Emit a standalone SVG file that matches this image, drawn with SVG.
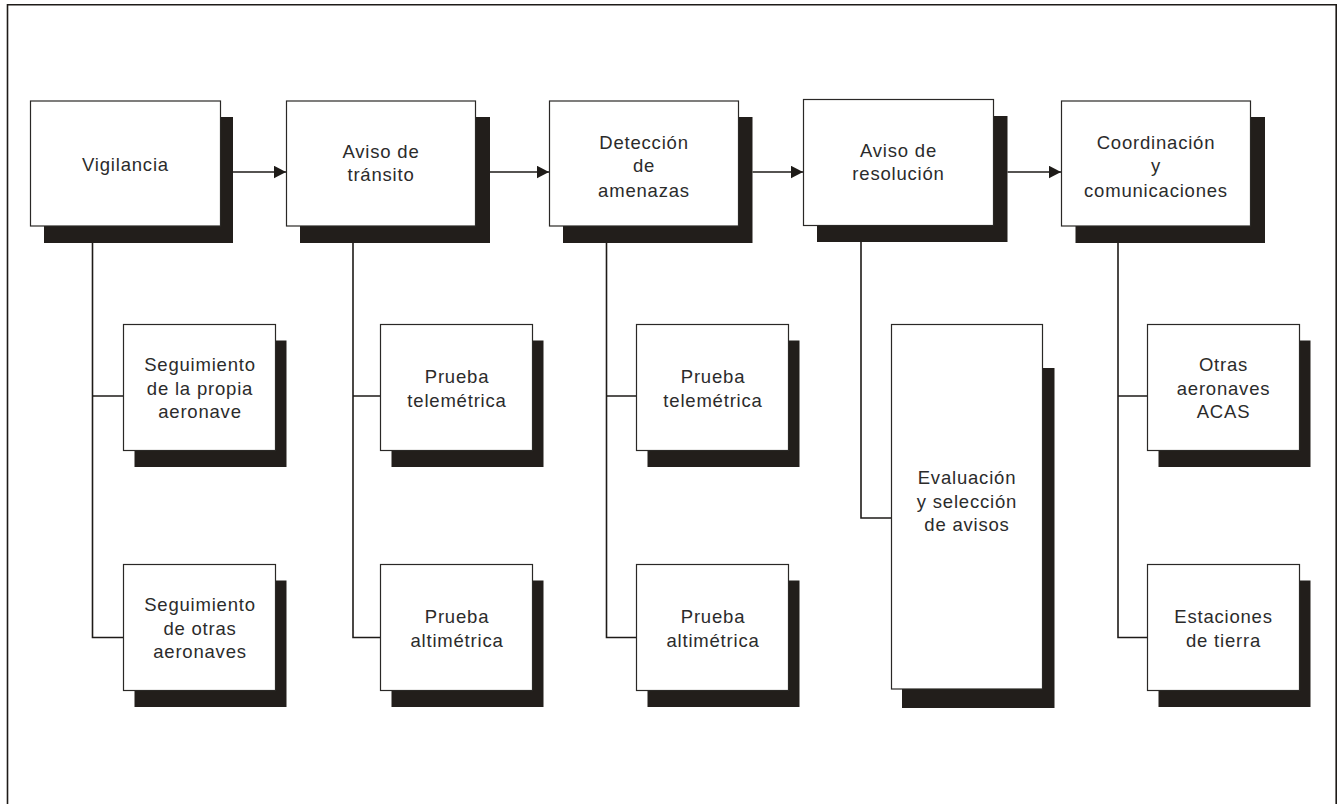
<svg xmlns="http://www.w3.org/2000/svg" width="1338" height="804" viewBox="0 0 1338 804">
<defs>
<style>
.frame{fill:none;stroke:#1e1b18;stroke-width:1.6}
.box{fill:#fff;stroke:#2a2826;stroke-width:1.2}
.sh{fill:#221e1b}
.ln{fill:none;stroke:#1e1b18;stroke-width:1.6}
.t{font-family:"Liberation Sans",Arial,sans-serif;font-size:18.5px;letter-spacing:0.8px;fill:#2b2b2b;text-anchor:middle}
</style>
<marker id="ah" markerWidth="13" markerHeight="14" refX="12.5" refY="6.5" orient="auto" markerUnits="userSpaceOnUse">
<path d="M0,0 L12.5,6.5 L0,13 Z" fill="#1e1b18"/>
</marker>
</defs>
<rect x="0" y="0" width="1338" height="804" fill="#fff"/>
<path class="frame" d="M7.5,806 V4.8 H1336.2 V806"/>

<g id="connectors">
<line class="ln" x1="233" y1="172" x2="286" y2="172" marker-end="url(#ah)"/>
<line class="ln" x1="490" y1="172" x2="549" y2="172" marker-end="url(#ah)"/>
<line class="ln" x1="752.5" y1="172" x2="803" y2="172" marker-end="url(#ah)"/>
<line class="ln" x1="1007.5" y1="172" x2="1061" y2="172" marker-end="url(#ah)"/>
<path class="ln" d="M92.5,243 V637.5 H123.5 M92.5,396 H123.5"/>
<path class="ln" d="M353,243 V637.5 H380.5 M353,396 H380.5"/>
<path class="ln" d="M606.5,243 V637.5 H636.5 M606.5,396 H636.5"/>
<path class="ln" d="M861,242 V518 H891.5"/>
<path class="ln" d="M1118,243 V637.5 H1147.5 M1118,396 H1147.5"/>
</g>

<g id="vigilancia">
<rect class="sh" x="44" y="117" width="189" height="126"/>
<rect class="box" x="30.5" y="101" width="190" height="125"/>
<text class="t" x="125.5" y="171">Vigilancia</text>
</g>
<g id="aviso-transito">
<rect class="sh" x="300" y="117" width="190" height="126"/>
<rect class="box" x="286.5" y="101" width="189" height="125"/>
<text class="t" x="381" y="157.5">Aviso de</text>
<text class="t" x="381" y="181">tránsito</text>
</g>
<g id="deteccion">
<rect class="sh" x="563" y="117" width="189.5" height="126"/>
<rect class="box" x="549.5" y="101" width="189" height="125"/>
<text class="t" x="644" y="148.5">Detección</text>
<text class="t" x="644" y="172">de</text>
<text class="t" x="644" y="196.5">amenazas</text>
</g>
<g id="aviso-resolucion">
<rect class="sh" x="817" y="116" width="190.5" height="126"/>
<rect class="box" x="803.5" y="99.5" width="190" height="126"/>
<text class="t" x="898.5" y="156.5">Aviso de</text>
<text class="t" x="898.5" y="180">resolución</text>
</g>
<g id="coordinacion">
<rect class="sh" x="1075.5" y="117" width="189.5" height="126"/>
<rect class="box" x="1061.5" y="101" width="189" height="125"/>
<text class="t" x="1156" y="148.5">Coordinación</text>
<text class="t" x="1156" y="172">y</text>
<text class="t" x="1156" y="196.5">comunicaciones</text>
</g>

<g id="seg-propia">
<rect class="sh" x="134.5" y="340.5" width="152" height="126.5"/>
<rect class="box" x="123.5" y="324.5" width="152" height="126"/>
<text class="t" x="200" y="371">Seguimiento</text>
<text class="t" x="200" y="394.5">de la propia</text>
<text class="t" x="200" y="418">aeronave</text>
</g>
<g id="seg-otras">
<rect class="sh" x="134.5" y="580.5" width="152" height="126.5"/>
<rect class="box" x="123.5" y="564.5" width="152" height="126"/>
<text class="t" x="200" y="611">Seguimiento</text>
<text class="t" x="200" y="634.5">de otras</text>
<text class="t" x="200" y="658">aeronaves</text>
</g>
<g id="tele-1">
<rect class="sh" x="391.5" y="340.5" width="152" height="126.5"/>
<rect class="box" x="380.5" y="324.5" width="152" height="126"/>
<text class="t" x="457" y="383">Prueba</text>
<text class="t" x="457" y="406.5">telemétrica</text>
</g>
<g id="alti-1">
<rect class="sh" x="391.5" y="580.5" width="152" height="126.5"/>
<rect class="box" x="380.5" y="564.5" width="152" height="126"/>
<text class="t" x="457" y="623">Prueba</text>
<text class="t" x="457" y="646.5">altimétrica</text>
</g>
<g id="tele-2">
<rect class="sh" x="647.5" y="340.5" width="152" height="126.5"/>
<rect class="box" x="636.5" y="324.5" width="152" height="126"/>
<text class="t" x="713" y="383">Prueba</text>
<text class="t" x="713" y="406.5">telemétrica</text>
</g>
<g id="alti-2">
<rect class="sh" x="647.5" y="580.5" width="152" height="126.5"/>
<rect class="box" x="636.5" y="564.5" width="152" height="126"/>
<text class="t" x="713" y="623">Prueba</text>
<text class="t" x="713" y="646.5">altimétrica</text>
</g>
<g id="evaluacion">
<rect class="sh" x="902" y="368" width="152.5" height="340"/>
<rect class="box" x="891.5" y="324.5" width="151" height="364.5"/>
<text class="t" x="967" y="483.5">Evaluación</text>
<text class="t" x="967" y="507.5">y selección</text>
<text class="t" x="967" y="531">de avisos</text>
</g>
<g id="otras-acas">
<rect class="sh" x="1158.5" y="340.5" width="152" height="126.5"/>
<rect class="box" x="1147.5" y="324.5" width="152" height="126"/>
<text class="t" x="1223.5" y="371">Otras</text>
<text class="t" x="1223.5" y="394.5">aeronaves</text>
<text class="t" x="1223.5" y="418">ACAS</text>
</g>
<g id="estaciones">
<rect class="sh" x="1158.5" y="580.5" width="152" height="126.5"/>
<rect class="box" x="1147.5" y="564.5" width="152" height="126"/>
<text class="t" x="1223.5" y="623">Estaciones</text>
<text class="t" x="1223.5" y="646.5">de tierra</text>
</g>
</svg>
